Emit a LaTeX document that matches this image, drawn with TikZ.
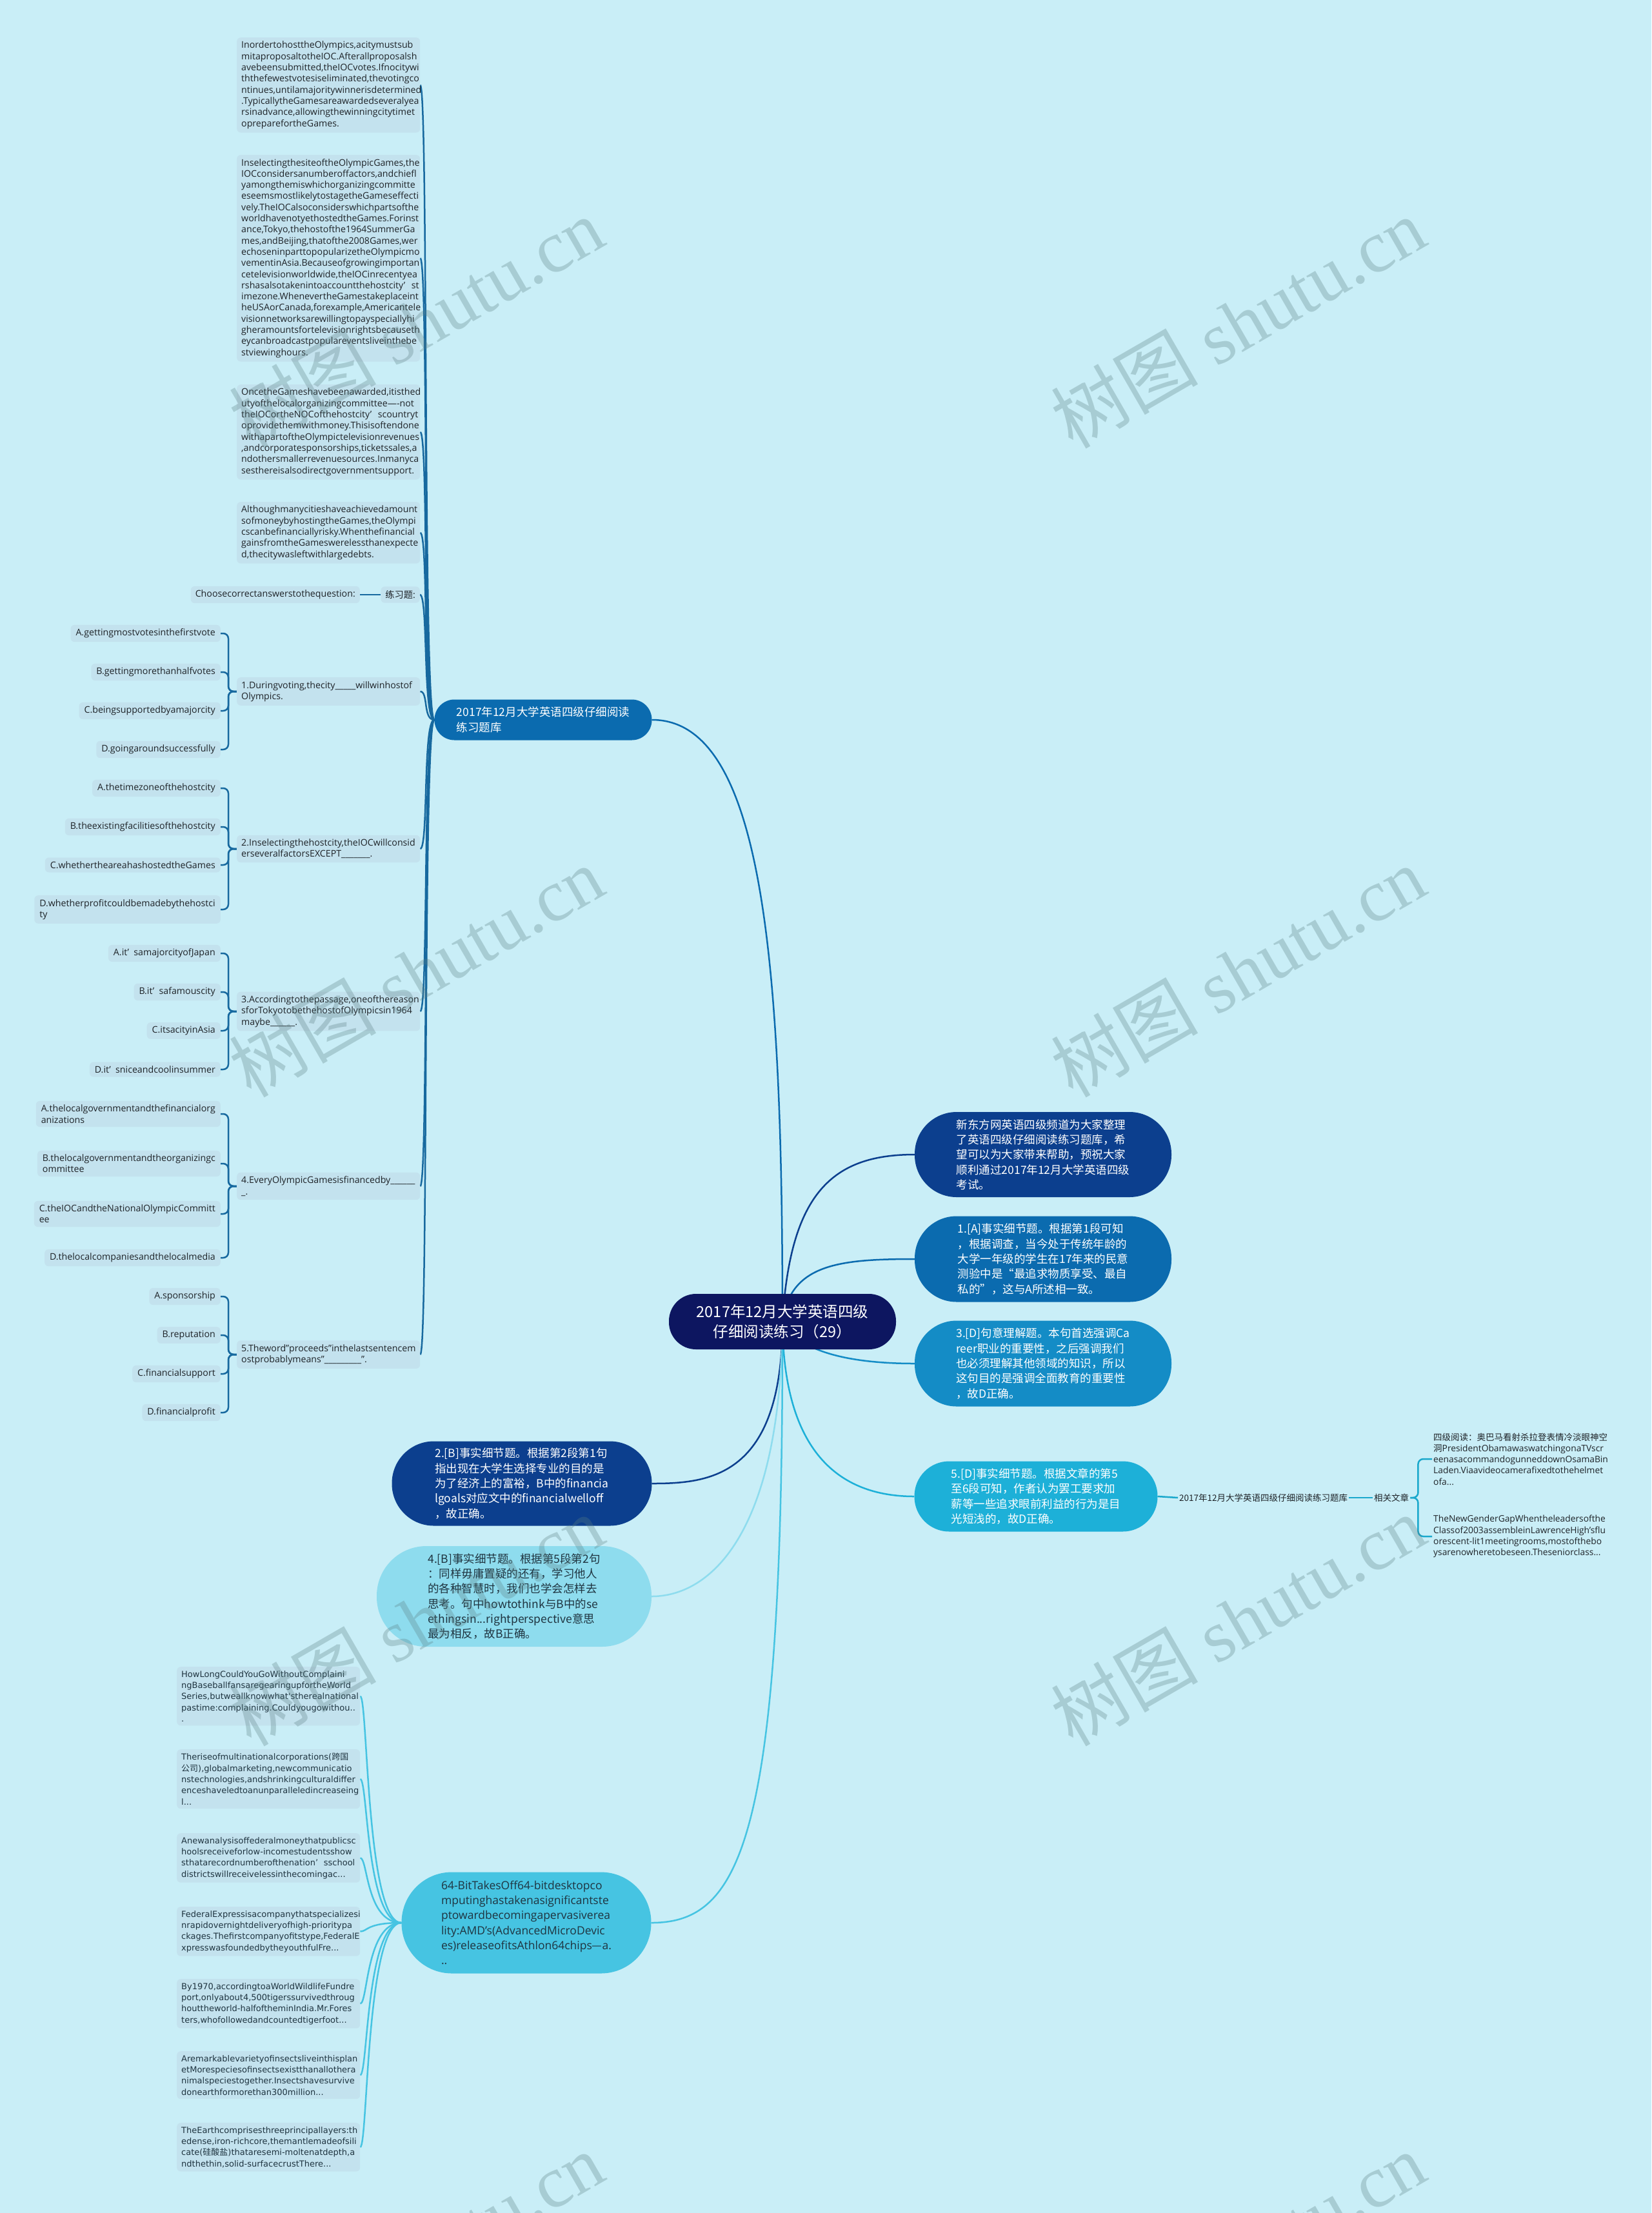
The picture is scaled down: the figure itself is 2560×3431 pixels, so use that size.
\documentclass[tikz,border=0pt]{standalone}
\usepackage{fontspec}
\setmainfont{Open Sans}
\newfontfamily\cjk{Noto Sans CJK SC}
\newfontfamily\widefont{DejaVu Sans}
\newfontfamily\wmserif{Liberation Serif}
\usetikzlibrary{calc}
\hyphenpenalty=10000
\exhyphenpenalty=10000
\definecolor{bgc}{HTML}{C9EEF7}
\definecolor{boxc}{HTML}{C3E2EE}
\definecolor{txt}{HTML}{1E2328}
\definecolor{dtxt}{HTML}{1F3440}
\definecolor{navy}{HTML}{0D1660}
\definecolor{dblue}{HTML}{0C3F8E}
\definecolor{mblue}{HTML}{0B6BAF}
\definecolor{lblue}{HTML}{148CC6}
\definecolor{cyanA}{HTML}{1DB0D8}
\definecolor{cyanB}{HTML}{46C4E2}
\definecolor{cyanC}{HTML}{8EDCEE}
\definecolor{trunk}{HTML}{17699F}
\definecolor{rcyan}{HTML}{1AA8CC}
\definecolor{wm}{RGB}{90,126,130}
\pgfdeclarelayer{bglayer}
\pgfdeclarelayer{lines}
\pgfsetlayers{bglayer,lines,main}
\tikzset{
 tbox/.style={fill=boxc, rounded corners=6pt, text=txt, inner xsep=7pt, inner ysep=6pt, align=left, font=\fontsize{14.2pt}{17.3pt}\selectfont},
 pbox/.style={tbox, anchor=north west, text width=270pt},
 qbox/.style={tbox, anchor=west, text width=270pt},
 obox/.style={tbox, anchor=east, inner xsep=8pt},
 lbox/.style={tbox, anchor=north west, text width=270pt, text=dtxt, font=\widefont\fontsize{13pt}{17.3pt}\selectfont},
 pill/.style={align=left, inner sep=0pt, font=\cjk\fontsize{17.5pt}{23.3pt}\selectfont},
 conn/.style={line width=2.5pt},
 tline/.style={line width=2.5pt, draw=trunk},
 bline/.style={line width=2.5pt, draw=cyanB},
 brk/.style={line width=2.5pt, draw=trunk, rounded corners=8pt},
 rline/.style={line width=2.5pt, draw=rcyan},
 rbrk/.style={line width=2.5pt, draw=rcyan, rounded corners=8pt},
 plain/.style={inner sep=2pt, text=txt, font=\cjk\fontsize{13.5pt}{17.3pt}\selectfont},
 plainT/.style={inner sep=2pt, text=txt, align=left, anchor=west, font=\fontsize{13.8pt}{17.3pt}\selectfont},
 wmark/.style={rotate=30, text=wm, text opacity=0.3, font=\wmserif\fontsize{114pt}{114pt}\selectfont}
}
\begin{document}
\begin{tikzpicture}[x=1pt,y=-1pt]
\begin{pgfonlayer}{bglayer}
\fill[bgc] (0,0) rectangle (2560,3431);
\end{pgfonlayer}
\useasboundingbox (0,0) rectangle (2560,3431);

% central and main nodes
\node[pill, align=center, fill=navy, text=white, minimum width=352pt, minimum height=86pt, rounded corners=42pt, font=\cjk\fontsize{23.5pt}{31pt}\selectfont] (c) at (1213,2049) {2017年12月大学英语四级\\仔细阅读练习（29）};
\node[pill, fill=mblue, text=white, minimum width=337pt, minimum height=63pt, rounded corners=31pt, font=\cjk\fontsize{17.5pt}{24pt}\selectfont] (lb) at (842,1116) {2017年12月大学英语四级仔细阅读\\练习题库};
\node[pill, fill=dblue, text=white, minimum width=398pt, minimum height=132pt, rounded corners=65pt] (r1) at (1617,1790) {新东方网英语四级频道为大家整理\\了英语四级仔细阅读练习题库，希\\望可以为大家带来帮助，预祝大家\\顺利通过2017年12月大学英语四级\\考试。};
\node[pill, fill=mblue, text=white, minimum width=398pt, minimum height=133pt, rounded corners=65pt] (r2) at (1617,1952) {1.[A]事实细节题。根据第1段可知\\，根据调查，当今处于传统年龄的\\大学一年级的学生在17年来的民意\\测验中是“最追求物质享受、最自\\私的”，这与A所述相一致。};
\node[pill, fill=lblue, text=white, minimum width=398pt, minimum height=133pt, rounded corners=65pt] (r3) at (1617,2114) {3.[D]句意理解题。本句首选强调Ca\\reer职业的重要性，之后强调我们\\也必须理解其他领域的知识，所以\\这句目的是强调全面教育的重要性\\，故D正确。};
\node[pill, fill=cyanA, text=white, minimum width=377pt, minimum height=109pt, rounded corners=54pt] (r4) at (1606,2320) {5.[D]事实细节题。根据文章的第5\\至6段可知，作者认为罢工要求加\\薪等一些追求眼前利益的行为是目\\光短浅的，故D正确。};
\node[pill, fill=dblue, text=white, minimum width=403pt, minimum height=131pt, rounded corners=65pt] (l1) at (809,2300) {2.[B]事实细节题。根据第2段第1句\\指出现在大学生选择专业的目的是\\为了经济上的富裕，B中的financia\\lgoals对应文中的financialwelloff\\，故正确。};
\node[pill, fill=cyanC, text=dtxt, minimum width=426pt, minimum height=156pt, rounded corners=77pt] (l2) at (797,2475) {4.[B]事实细节题。根据第5段第2句\\：同样毋庸置疑的还有，学习他人\\的各种智慧时，我们也学会怎样去\\思考。句中howtothink与B中的se\\ethingsin...rightperspective意思\\最为相反，故B正确。};
\node[pill, fill=cyanB, text=dtxt, minimum width=387pt, minimum height=157pt, rounded corners=78pt, font=\fontsize{17.5pt}{23.3pt}\selectfont] (l3) at (816,2981) {64-BitTakesOff64-bitdesktopco\\mputinghastakenasignificantste\\ptowardbecomingapervasiverea\\lity:AMD's(AdvancedMicroDevic\\es)releaseofitsAthlon64chips{\cjk —}a.\\..};

% right side
\node[plain, anchor=west] (rt) at (1826,2322) {2017年12月大学英语四级仔细阅读练习题库};
\node[plain, anchor=west] (xg) at (2128,2322) {相关文章};
\node[plainT] (t1) at (2220,2262) {{\cjk\fontsize{13.5pt}{17.3pt}\selectfont 四级阅读：奥巴马看射杀拉登表情冷淡眼神空}\\{\cjk\fontsize{13.5pt}{17.3pt}\selectfont 洞}PresidentObamawaswatchingonaTVscr\\eenasacommandogunneddownOsamaBin\\Laden.Viaavideocamerafixedtothehelmet\\ofa...};
\node[plainT] (t2) at (2220,2382) {TheNewGenderGapWhentheleadersofthe\\Classof2003assembleinLawrenceHigh'sflu\\orescent-lit1meetingrooms,mostofthebo\\ysarenowheretobeseen.Theseniorclass...};

% left passages
\node[pbox] (p1) at (367,58) {InordertohosttheOlympics,acitymustsub\\mitaproposaltotheIOC.Afterallproposalsh\\avebeensubmitted,theIOCvotes.Ifnocitywi\\ththefewestvotesiseliminated,thevotingco\\ntinues,untilamajoritywinnerisdetermined\\.TypicallytheGamesareawardedseveralyea\\rsinadvance,allowingthewinningcitytimet\\opreparefortheGames.};
\node[pbox] (p2) at (367,240) {InselectingthesiteoftheOlympicGames,the\\IOCconsidersanumberoffactors,andchiefl\\yamongthemiswhichorganizingcommitte\\eseemsmostlikelytostagetheGameseffecti\\vely.TheIOCalsoconsiderswhichpartsofthe\\worldhavenotyethostedtheGames.Forinst\\ance,Tokyo,thehostofthe1964SummerGa\\mes,andBeijing,thatofthe2008Games,wer\\echoseninparttopopularizetheOlympicmo\\vementinAsia.Becauseofgrowingimportan\\cetelevisionworldwide,theIOCinrecentyea\\rshasalsotakenintoaccountthehostcity’~~st\\imezone.WhenevertheGamestakeplaceint\\heUSAorCanada,forexample,Americantele\\visionnetworksarewillingtopayspeciallyhi\\gheramountsfortelevisionrightsbecauseth\\eycanbroadcastpopulareventsliveinthebe\\stviewinghours.};
\node[pbox] (p3) at (367,596) {OncetheGameshavebeenawarded,itisthed\\utyofthelocalorganizingcommittee----not\\theIOCortheNOCofthehostcity’~~scountryt\\oprovidethemwithmoney.Thisisoftendone\\withapartoftheOlympictelevisionrevenues\\,andcorporatesponsorships,ticketssales,a\\ndothersmallerrevenuesources.Inmanyca\\sesthereisalsodirectgovernmentsupport.};
\node[pbox] (p4) at (367,778) {Althoughmanycitieshaveachievedamount\\sofmoneybyhostingtheGames,theOlympi\\cscanbefinanciallyrisky.Whenthefinancial\\gainsfromtheGameswerelessthanexpecte\\d,thecitywasleftwithlargedebts.};
\node[tbox, anchor=east] (lx) at (651,922) {{\cjk 练习题}:};
\node[tbox, anchor=east] (ch) at (558,922) {Choosecorrectanswerstothequestion:};

% questions
\node[qbox] (q1) at (367,1072) {1.Duringvoting,thecity\_\_\_\_\_willwinhostof\\Olympics.};
\node[obox] (q1a) at (342,982) {A.gettingmostvotesinthefirstvote};
\node[obox] (q1b) at (342,1042) {B.gettingmorethanhalfvotes};
\node[obox] (q1c) at (342,1102) {C.beingsupportedbyamajorcity};
\node[obox] (q1d) at (342,1162) {D.goingaroundsuccessfully};

\node[qbox] (q2) at (367,1316) {2.Inselectingthehostcity,theIOCwillconsid\\erseveralfactorsEXCEPT\_\_\_\_\_\_\_.};
\node[obox] (q2a) at (342,1222) {A.thetimezoneofthehostcity};
\node[obox] (q2b) at (342,1282) {B.theexistingfacilitiesofthehostcity};
\node[obox] (q2c) at (342,1341) {C.whethertheareahashostedtheGames};
\node[obox] (q2d) at (342,1410) {D.whetherprofitcouldbemadebythehostci\\ty};

\node[qbox] (q3) at (367,1568) {3.Accordingtothepassage,oneofthereason\\sforTokyotobethehostofOlympicsin1964\\maybe\_\_\_\_\_\_.};
\node[obox] (q3a) at (342,1478) {A.it’~~samajorcityofJapan};
\node[obox] (q3b) at (342,1538) {B.it’~~safamouscity};
\node[obox] (q3c) at (342,1598) {C.itsacityinAsia};
\node[obox] (q3d) at (342,1658) {D.it’~~sniceandcoolinsummer};

\node[qbox] (q4) at (367,1839) {4.EveryOlympicGamesisfinancedby\_\_\_\_\_\_\\\_.};
\node[obox] (q4a) at (342,1727) {A.thelocalgovernmentandthefinancialorg\\anizations};
\node[obox] (q4b) at (342,1804) {B.thelocalgovernmentandtheorganizingc\\ommittee};
\node[obox] (q4c) at (342,1882) {C.theIOCandtheNationalOlympicCommitt\\ee};
\node[obox] (q4d) at (342,1950) {D.thelocalcompaniesandthelocalmedia};

\node[qbox] (q5) at (367,2100) {5.Theword"proceeds"inthelastsentencem\\ostprobablymeans"\_\_\_\_\_\_\_\_\_".};
\node[obox] (q5a) at (342,2010) {A.sponsorship};
\node[obox] (q5b) at (342,2070) {B.reputation};
\node[obox] (q5c) at (342,2130) {C.financialsupport};
\node[obox] (q5d) at (342,2190) {D.financialprofit};

% bottom list
\node[lbox] (b1) at (274,2584) {HowLongCouldYouGoWithoutComplaini\\ngBaseballfansaregearingupfortheWorld\\Series,butweallknowwhat'stherealnational\\pastime:complaining.Couldyougowithou..\\.};
\node[lbox] (b2) at (274,2712) {Theriseofmultinationalcorporations({\cjk 跨国}\\{\cjk 公司}),globalmarketing,newcommunicatio\\nstechnologies,andshrinkingculturaldiffer\\enceshaveledtoanunparalleledincreaseing\\l...};
\node[lbox] (b3) at (274,2842) {Anewanalysisoffederalmoneythatpublicsc\\hoolsreceiveforlow-incomestudentsshow\\sthatarecordnumberofthenation’~~sschool\\districtswillreceivelessinthecomingac...};
\node[lbox] (b4) at (274,2956) {FederalExpressisacompanythatspecializesi\\nrapidovernightdeliveryofhigh-prioritypa\\ckages.Thefirstcompanyofitstype,FederalE\\xpresswasfoundedbytheyouthfulFre...};
\node[lbox] (b5) at (274,3068) {By1970,accordingtoaWorldWildlifeFundre\\port,onlyabout4,500tigerssurvivedthroug\\houttheworld-halfoftheminIndia.Mr.Fores\\ters,whofollowedandcountedtigerfoot...};
\node[lbox] (b6) at (274,3180) {Aremarkablevarietyofinsectsliveinthisplan\\etMorespeciesofinsectsexistthanallothera\\nimalspeciestogether.Insectshavesurvive\\donearthformorethan300million...};
\node[lbox] (b7) at (274,3291) {TheEarthcomprisesthreeprincipallayers:th\\edense,iron-richcore,themantlemadeofsili\\cate({\cjk 硅酸盐})thataresemi-moltenatdepth,a\\ndthethin,solid-surfacecrustThere...};

% connectors
\begin{pgfonlayer}{lines}
\draw[conn, draw=mblue] (lb.east) .. controls (1185,1116) and (1213,1500) .. (c.center);
\draw[conn, draw=dblue] (c.center) .. controls (1225,1850) and (1290,1790) .. (r1.west);
\draw[conn, draw=mblue] (c.center) .. controls (1225,1960) and (1300,1952) .. (r2.west);
\draw[conn, draw=lblue] (c.center) .. controls (1240,2100) and (1330,2114) .. (r3.west);
\draw[conn, draw=cyanA] (c.center) .. controls (1214,2250) and (1300,2320) .. (r4.west);
\draw[conn, draw=dblue] (c.center) .. controls (1213,2290) and (1100,2300) .. (l1.east);
\draw[conn, draw=cyanC] (c.center) .. controls (1210,2380) and (1100,2475) .. (l2.east);
\draw[conn, draw=cyanB] (c.center) .. controls (1214,2850) and (1150,2981) .. (l3.east);

\foreach \ch in {p1,p2,p3,p4,lx,q1,q2,q3,q4,q5}
  \draw[tline] (lb.west) .. controls +(-18,0) and +(13,0) .. (\ch.east);
\draw[tline] (lx.west) -- (ch.east);

\foreach \q in {q1,q2,q3,q4,q5}
  \foreach \o in {a,b,c,d}
    \draw[brk] (\q.west) -- ++(-13,0) |- (\q\o.east);

\foreach \b in {b1,b2,b3,b4,b5,b6,b7}
  \draw[bline] (l3.west) .. controls +(-55,0) and +(12,0) .. (\b.east);

\draw[rline] (r4.east) -- (rt.west);
\draw[rline] (rt.east) -- (xg.west);
\draw[rbrk] (xg.east) -- ++(12,0) |- (t1.west);
\draw[rbrk] (xg.east) -- ++(12,0) |- (t2.west);
\end{pgfonlayer}

% watermarks
\foreach \yy [count=\i] in {500,1506,2512,3500}
  \foreach \xx [count=\j] in {645,1919}
    \node[wmark] (wm-\i-\j) at (\xx,\yy) {{\cjk 树图} shutu.cn};
\end{tikzpicture}
\end{document}
